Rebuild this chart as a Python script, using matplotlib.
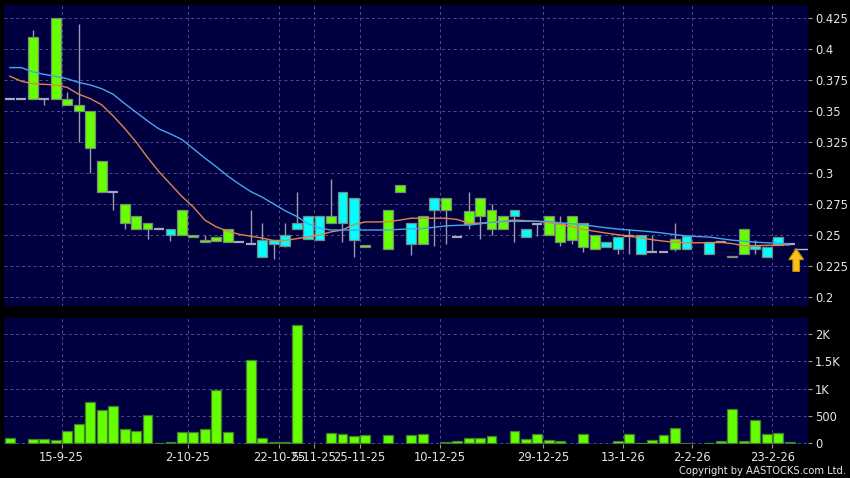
import matplotlib
matplotlib.use('Agg')
import matplotlib.pyplot as plt
import numpy as np
from matplotlib.patches import Rectangle, FancyArrow

nan = float('nan')
# ---------------- data ----------------
opens = [0.36, 0.36, 0.41, 0.36, 0.425, 0.36, 0.355, 0.35, 0.31, 0.285,
         0.275, 0.265, 0.26, 0.255, 0.25, 0.27, 0.25, 0.246, 0.248, 0.255,
         0.244, 0.243, 0.232, 0.243, 0.241, 0.255, 0.247, 0.246, 0.265, 0.26,
         0.246, 0.242, nan, 0.27, 0.29, 0.2425, 0.265, 0.27, 0.28, 0.248,
         0.269, 0.28, 0.27, 0.265, 0.265, 0.248, 0.259, 0.265, 0.26, 0.265,
         0.26, 0.25, 0.24, 0.239, 0.249, 0.235, 0.236, 0.236, 0.247, 0.239,
         nan, 0.235, 0.244, 0.233, 0.255, 0.239, 0.232, 0.242, 0.243]
closes = [0.36, 0.36, 0.36, 0.36, 0.36, 0.355, 0.35, 0.32, 0.285, 0.285,
          0.26, 0.255, 0.255, 0.255, 0.255, 0.25, 0.248, 0.244, 0.245, 0.244,
          0.244, 0.243, 0.246, 0.246, 0.25, 0.26, 0.265, 0.265, 0.26, 0.285,
          0.28, 0.24, nan, 0.239, 0.285, 0.26, 0.243, 0.28, 0.27, 0.248,
          0.259, 0.265, 0.255, 0.255, 0.27, 0.255, 0.259, 0.25, 0.244, 0.246,
          0.24, 0.239, 0.244, 0.248, 0.249, 0.25, 0.236, 0.236, 0.239, 0.249,
          nan, 0.244, 0.244, 0.232, 0.235, 0.241, 0.24, 0.248, 0.243]
highs = [0.36, 0.36, 0.415, 0.36, 0.425, 0.365, 0.42, 0.35, 0.31, 0.285,
         0.275, 0.265, 0.26, 0.255, 0.255, 0.27, 0.25, 0.25, 0.248, 0.255,
         0.244, 0.27, 0.26, 0.246, 0.26, 0.285, 0.265, 0.265, 0.295, 0.285,
         0.28, 0.242, nan, 0.27, 0.29, 0.26, 0.265, 0.28, 0.28, 0.248,
         0.285, 0.28, 0.275, 0.265, 0.27, 0.255, 0.259, 0.265, 0.265, 0.265,
         0.26, 0.25, 0.244, 0.248, 0.255, 0.25, 0.25, 0.236, 0.26, 0.249,
         nan, 0.244, 0.244, 0.233, 0.255, 0.246, 0.24, 0.248, 0.243]
lows = [0.36, 0.36, 0.36, 0.355, 0.36, 0.355, 0.325, 0.30, 0.285, 0.27,
        0.255, 0.255, 0.247, 0.255, 0.245, 0.25, 0.248, 0.244, 0.245, 0.244,
        0.244, 0.243, 0.232, 0.231, 0.24, 0.255, 0.247, 0.246, 0.26, 0.244,
        0.232, 0.24, nan, 0.239, 0.285, 0.234, 0.243, 0.241, 0.243, 0.248,
        0.255, 0.247, 0.25, 0.255, 0.244, 0.248, 0.249, 0.25, 0.241, 0.243,
        0.236, 0.239, 0.24, 0.235, 0.235, 0.235, 0.236, 0.236, 0.237, 0.239,
        nan, 0.235, 0.244, 0.232, 0.235, 0.235, 0.232, 0.242, 0.243]
volumes = [90, 0, 85, 85, 70, 220, 360, 750, 610, 675,
           260, 220, 515, 5, 25, 200, 200, 255, 970, 210,
           0, 1525, 105, 20, 20, 2165, 0, 0, 180, 165,
           130, 160, 0, 160, 0, 160, 165, 0, 30, 42,
           103, 92, 140, 0, 225, 73, 165, 55, 42, 0,
           170, 0, 0, 48, 165, 5, 66, 158, 275, 10,
           0, 15, 42, 620, 48, 425, 175, 185, 18]
ma_blue = [0.385, 0.385, 0.3815, 0.3795, 0.378, 0.376, 0.373, 0.371, 0.368, 0.3635,
           0.356, 0.349, 0.342, 0.3355, 0.3315, 0.327, 0.3195, 0.312, 0.305, 0.2975,
           0.291, 0.285, 0.2805, 0.275, 0.2695, 0.265, 0.259, 0.2555, 0.254, 0.254,
           0.254, 0.254, 0.254, 0.254, 0.2545, 0.255, 0.2552, 0.2562, 0.2573, 0.2578,
           0.258, 0.259, 0.2602, 0.2607, 0.261, 0.261, 0.261, 0.261, 0.2598, 0.259,
           0.2582, 0.257, 0.2558, 0.2548, 0.254, 0.2533, 0.2525, 0.2515, 0.2502, 0.2493,
           0.2487, 0.2483, 0.247, 0.2458, 0.245, 0.2442, 0.2437, 0.2432, 0.2428]
ma_orange = [0.378, 0.374, 0.372, 0.3715, 0.371, 0.369, 0.3635, 0.36, 0.355, 0.346,
             0.336, 0.325, 0.3125, 0.301, 0.291, 0.281, 0.2725, 0.262, 0.2565, 0.253,
             0.2505, 0.249, 0.2475, 0.2455, 0.2455, 0.247, 0.2485, 0.25, 0.2525, 0.254,
             0.2585, 0.2605, 0.2605, 0.2607, 0.262, 0.2635, 0.2635, 0.2635, 0.2635, 0.2625,
             0.2595, 0.2595, 0.2602, 0.2612, 0.262, 0.2615, 0.261, 0.26, 0.2585, 0.2567,
             0.2545, 0.253, 0.2515, 0.2502, 0.249, 0.2477, 0.2462, 0.245, 0.2442, 0.2437,
             0.2437, 0.2438, 0.244, 0.243, 0.2413, 0.2414, 0.2416, 0.2418, 0.242]
date_labels = ['15-9-25', '2-10-25', '22-10-25', '5-11-25', '25-11-25',
               '10-12-25', '29-12-25', '13-1-26', '2-2-26', '23-2-26']
date_index = [5, 16, 24, 27, 31, 38, 47, 54, 60, 67]
last_price = 0.239
price_ticks = [0.2, 0.225, 0.25, 0.275, 0.3, 0.325, 0.35, 0.375, 0.4, 0.425]
vol_ticks = [0, 500, 1000, 1500, 2000]
vol_tick_labels = ['0', '500', '1K', '1.5K', '2K']

# ---------------- styling ----------------
BG = '#000040'
GRID = '#4e4e8c'
TXT = '#e6e6e6'
GREEN = '#66ff00'
CYAN = '#00ffff'
WICK = '#9a9aae'
DOJI = '#a8a8b8'

W, H = 850, 478
fig = plt.figure(figsize=(W / 100, H / 100), dpi=100, facecolor='black')

def fx(px):
    return px / W

def fy(py):
    return 1 - py / H

left, right = 4, 808
ax = fig.add_axes([fx(left), fy(306), fx(right - left), fy(5) - fy(306)], facecolor=BG)
axv = fig.add_axes([fx(left), fy(444), fx(right - left), fy(318) - fy(444)], facecolor=BG)

n = len(opens)
x = np.arange(n)
xlim = (-0.52, 69.6)
bw = 0.86

for i in range(n):
    o, c, h, l = opens[i], closes[i], highs[i], lows[i]
    if np.isnan(o):
        continue
    ax.vlines(i, l, h, color=WICK, lw=1.0, zorder=2)
    if abs(c - o) < 1e-9:
        ax.hlines(o, i - bw / 2, i + bw / 2, color=DOJI, lw=1.6, zorder=3)
    else:
        col = GREEN if c < o else CYAN
        ax.add_patch(Rectangle((i - bw / 2, min(o, c)), bw, abs(c - o),
                               facecolor=col, edgecolor='#7c8a7c', lw=0.9, zorder=3))

ax.plot(x, ma_orange, color='#e0844a', lw=1.0, zorder=5)
ax.plot(x, ma_blue, color='#45a6ee', lw=1.0, zorder=5)

# last price marker and arrow
ax.hlines(last_price, n - 0.65, xlim[1], color='#b8b8c8', lw=1.0, zorder=4)
ax.add_patch(FancyArrow(n - 0.43, 0.2206, 0, last_price - 0.2206, width=0.58,
                        head_width=1.3, head_length=0.0089, length_includes_head=True,
                        facecolor='#f7c21a', edgecolor='#c98a00', lw=0.8, zorder=6))

ax.set_xlim(*xlim)
ax.set_ylim(0.1927, 0.4355)
ax.set_yticks(price_ticks)
ax.set_yticklabels([f"{v:.3f}".rstrip('0') for v in price_ticks])

vx = [i for i in range(n) if volumes[i] > 0]
vv = [volumes[i] for i in vx]
axv.bar(vx, vv, width=bw, color=GREEN, edgecolor='#3f7f2f', lw=0.9, zorder=3)
axv.set_xlim(*xlim)
axv.set_ylim(-12, 2290)
axv.set_yticks(vol_ticks)
axv.set_yticklabels(vol_tick_labels)

tick_pos = [d - 0.5 for d in date_index]
for a in (ax, axv):
    for s in a.spines.values():
        s.set_visible(False)
    a.yaxis.tick_right()
    a.tick_params(axis='y', colors='#9a9a9a', labelcolor=TXT, labelsize=8.3,
                  length=3, width=0.8, pad=2)
    a.set_xticks(tick_pos)
    a.grid(True, color=GRID, linestyle=(0, (3, 3)), linewidth=0.7, zorder=0)
    a.set_axisbelow(True)

ax.tick_params(axis='x', length=0, labelbottom=False)
axv.set_xticklabels(date_labels)
axv.tick_params(axis='x', colors='#9a9a9a', labelcolor=TXT, labelsize=8.3,
                length=3, width=0.8, pad=2)

fig.text(fx(846), fy(471), 'Copyright by AASTOCKS.com Ltd.', color=TXT,
         fontsize=7.2, ha='right', va='center')

fig.savefig('out.png', dpi=100, facecolor='black')
